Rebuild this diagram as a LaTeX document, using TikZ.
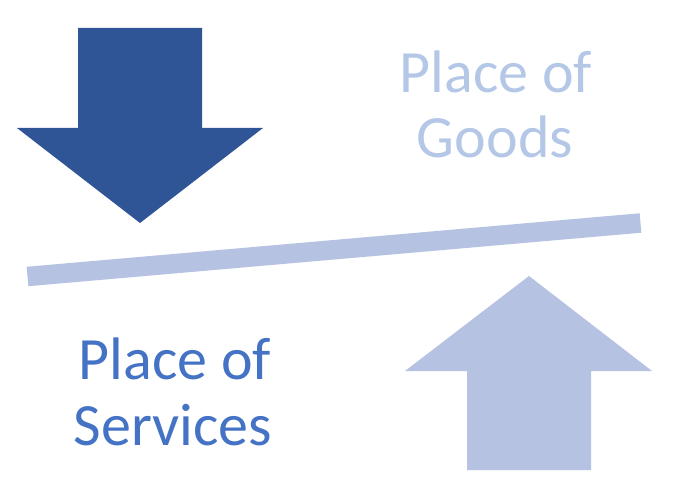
\documentclass[tikz,border=0pt]{standalone}
\usepackage{fontspec}
\setmainfont{Carlito}
\usepackage{tikz}
\definecolor{darkarrow}{HTML}{2F5597}
\definecolor{lightarrow}{HTML}{B6C2E1}
\definecolor{goodstext}{HTML}{B4C7E7}
\definecolor{servtext}{HTML}{4472C4}
\begin{document}
\begin{tikzpicture}[x=1pt, y=1pt,
  label/.style={anchor=base, inner sep=0pt, font=\fontsize{60}{65}\selectfont}
]
\useasboundingbox (0,0) rectangle (673,499);
% down arrow
\fill[darkarrow] (78,471) -- (202,471) -- (202,371) -- (263,371)
  -- (140,276) -- (17,371) -- (78,371) -- cycle;
% tilted bar
\coordinate (barl) at (27.5,222.5);
\coordinate (barr) at (640.5,276);
\draw[lightarrow, line width=19.5pt] (barl) -- (barr);
% up arrow
\fill[lightarrow] (467,29) -- (591,29) -- (591,128) -- (652,128)
  -- (529,223) -- (405,128) -- (467,128) -- cycle;
% labels
\node[label, text=goodstext] (goods1) at (496,406) {Place of};
\node[label, text=goodstext] (goods2) at (495,341) {Goods};
\node[label, text=servtext] (serv1) at (175,120) {Place of};
\node[label, text=servtext] (serv2) at (173,54) {Services};
\end{tikzpicture}
\end{document}
